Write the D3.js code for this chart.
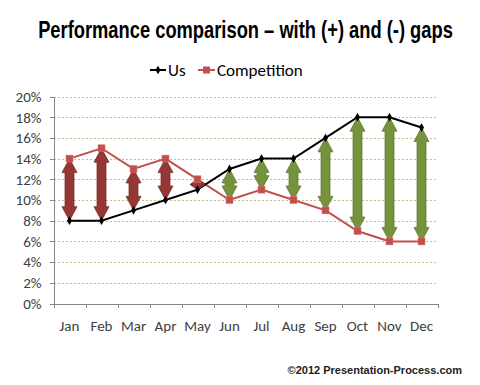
<!DOCTYPE html>
<html lang="en">
<head>
<meta charset="UTF-8">
<title>Performance comparison</title>
<style>
  body { margin: 0; background: #fff; }
  .axis text { font-family: Calibri, Carlito, "Liberation Sans", sans-serif; font-size: 15px; fill: #404040; }
  .axis path, .axis line { stroke: #868686; shape-rendering: crispEdges; }
</style>
</head>
<body>
<script src="https://d3js.org/d3.v7.min.js"></script>
<script>
var months = ["Jan","Feb","Mar","Apr","May","Jun","Jul","Aug","Sep","Oct","Nov","Dec"];
var us = [8, 8, 9, 10, 11, 13, 14, 14, 16, 18, 18, 17];
var competition = [14, 15, 13, 14, 12, 10, 11, 10, 9, 7, 6, 6];
var yTicks = [0, 2, 4, 6, 8, 10, 12, 14, 16, 18, 20];

var width = 480, height = 385;
var svg = d3.select("body").append("svg").attr("width", width).attr("height", height);

var x = d3.scaleBand().domain(months).range([53.5, 437.5]);
var y = d3.scaleLinear().domain([0, 20]).range([303.5, 96.5]);
var cx = function(i) { return x(months[i]) + x.bandwidth() / 2; };

// title (condensed by scaling, no narrow font installed)
var title = svg.append("text").attr("text-anchor", "middle")
  .style("font-family", "'Liberation Sans Narrow', 'Liberation Sans', sans-serif")
  .style("font-weight", "bold").style("font-size", "23px").attr("fill", "#000")
  .text("Performance comparison \u2013 with (+) and (-) gaps");
var tw = title.node().getComputedTextLength();
title.attr("transform", "translate(245.5,38) scale(" + (415 / tw) + ",1)");

// gridlines
svg.append("g").selectAll("line").data(yTicks.slice(1)).enter().append("line")
  .attr("x1", 54).attr("x2", 437).attr("y1", function(d){ return Math.round(y(d)) + 0.5; })
  .attr("y2", function(d){ return Math.round(y(d)) + 0.5; })
  .attr("stroke", "#C4BD97").attr("stroke-dasharray", "2,2");

// axes
var yAxis = d3.axisLeft(y).tickValues(yTicks).tickSize(4).tickPadding(8)
  .tickFormat(function(d){ return d + "%"; });
svg.append("g").attr("class", "axis").attr("transform", "translate(53.5,0)").call(yAxis)
  .call(function(g){ g.selectAll(".tick line").attr("x2", 0).attr("x1", -4); });

var xAxis = d3.axisBottom(x).tickSize(0).tickPadding(17);
var gx = svg.append("g").attr("class", "axis").attr("transform", "translate(0,303.5)").call(xAxis);
gx.selectAll("line.sep").data(d3.range(13)).enter().append("line").attr("class", "sep")
  .attr("x1", function(i){ return Math.round(53.5 + i * x.step()) + 0.5; })
  .attr("x2", function(i){ return Math.round(53.5 + i * x.step()) + 0.5; })
  .attr("y1", 0).attr("y2", 4);

// lines
var line = function(vals) {
  return d3.line().x(function(d, i){ return cx(i); }).y(function(d){ return y(d); })(vals);
};
svg.append("path").attr("d", line(competition)).attr("fill", "none").attr("stroke", "#C0504D").attr("stroke-width", 2);
svg.append("path").attr("d", line(us)).attr("fill", "none").attr("stroke", "#000").attr("stroke-width", 2);

// gap arrows
function arrowPath(xc, y1, y2) {
  var top = Math.min(y1, y2), bot = Math.max(y1, y2), h = bot - top;
  var hl = Math.min(14, h / 2), hw = 7.5, sw = 4.5;
  return "M" + xc + "," + top +
    "L" + (xc + hw) + "," + (top + hl) + "L" + (xc + sw) + "," + (top + hl) +
    "L" + (xc + sw) + "," + (bot - hl) + "L" + (xc + hw) + "," + (bot - hl) +
    "L" + xc + "," + bot +
    "L" + (xc - hw) + "," + (bot - hl) + "L" + (xc - sw) + "," + (bot - hl) +
    "L" + (xc - sw) + "," + (top + hl) + "L" + (xc - hw) + "," + (top + hl) + "Z";
}
svg.append("g").selectAll("path").data(months).enter().append("path")
  .attr("d", function(d, i){ return arrowPath(cx(i), y(us[i]), y(competition[i])); })
  .attr("fill", function(d, i){ return us[i] > competition[i] ? "#76923C" : "#953735"; })
  .attr("stroke", function(d, i){ return us[i] > competition[i] ? "#5E7530" : "#7A2B29"; })
  .attr("stroke-width", 0.75);

// markers
svg.append("g").selectAll("rect").data(competition).enter().append("rect")
  .attr("x", function(d, i){ return cx(i) - 3.5; }).attr("y", function(d){ return y(d) - 3.5; })
  .attr("width", 7).attr("height", 7).attr("fill", "#C0504D").attr("stroke", "#E07070").attr("stroke-width", 0.5);
svg.append("g").selectAll("path").data(us).enter().append("path")
  .attr("d", d3.symbol().type(d3.symbolDiamond).size(22))
  .attr("transform", function(d, i){ return "translate(" + cx(i) + "," + y(d) + ")"; })
  .attr("fill", "#000");

// legend
var lg = svg.append("g").attr("transform", "translate(0,70)");
lg.append("line").attr("x1", 150).attr("x2", 166).attr("y1", 0).attr("y2", 0).attr("stroke", "#000").attr("stroke-width", 2);
lg.append("path").attr("d", d3.symbol().type(d3.symbolDiamond).size(22)).attr("transform", "translate(158,0)");
lg.append("text").attr("x", 168).attr("y", 6).text("Us")
  .style("font-family", "Calibri, Carlito, 'Liberation Sans', sans-serif").style("font-size", "17px").attr("fill", "#000");
lg.append("line").attr("x1", 198).attr("x2", 215).attr("y1", 0).attr("y2", 0).attr("stroke", "#C0504D").attr("stroke-width", 2);
lg.append("rect").attr("x", 203).attr("y", -3.5).attr("width", 7).attr("height", 7).attr("fill", "#C0504D");
lg.append("text").attr("x", 217).attr("y", 6).text("Competition")
  .style("font-family", "Calibri, Carlito, 'Liberation Sans', sans-serif").style("font-size", "17px").attr("fill", "#000");

// credit
svg.append("text").attr("x", 462).attr("y", 374).attr("text-anchor", "end")
  .style("font-family", "'Liberation Sans', Arial, sans-serif").style("font-size", "11px").style("font-weight", "bold")
  .attr("fill", "#222").text("\u00A92012 Presentation-Process.com");
</script>
</body>
</html>
